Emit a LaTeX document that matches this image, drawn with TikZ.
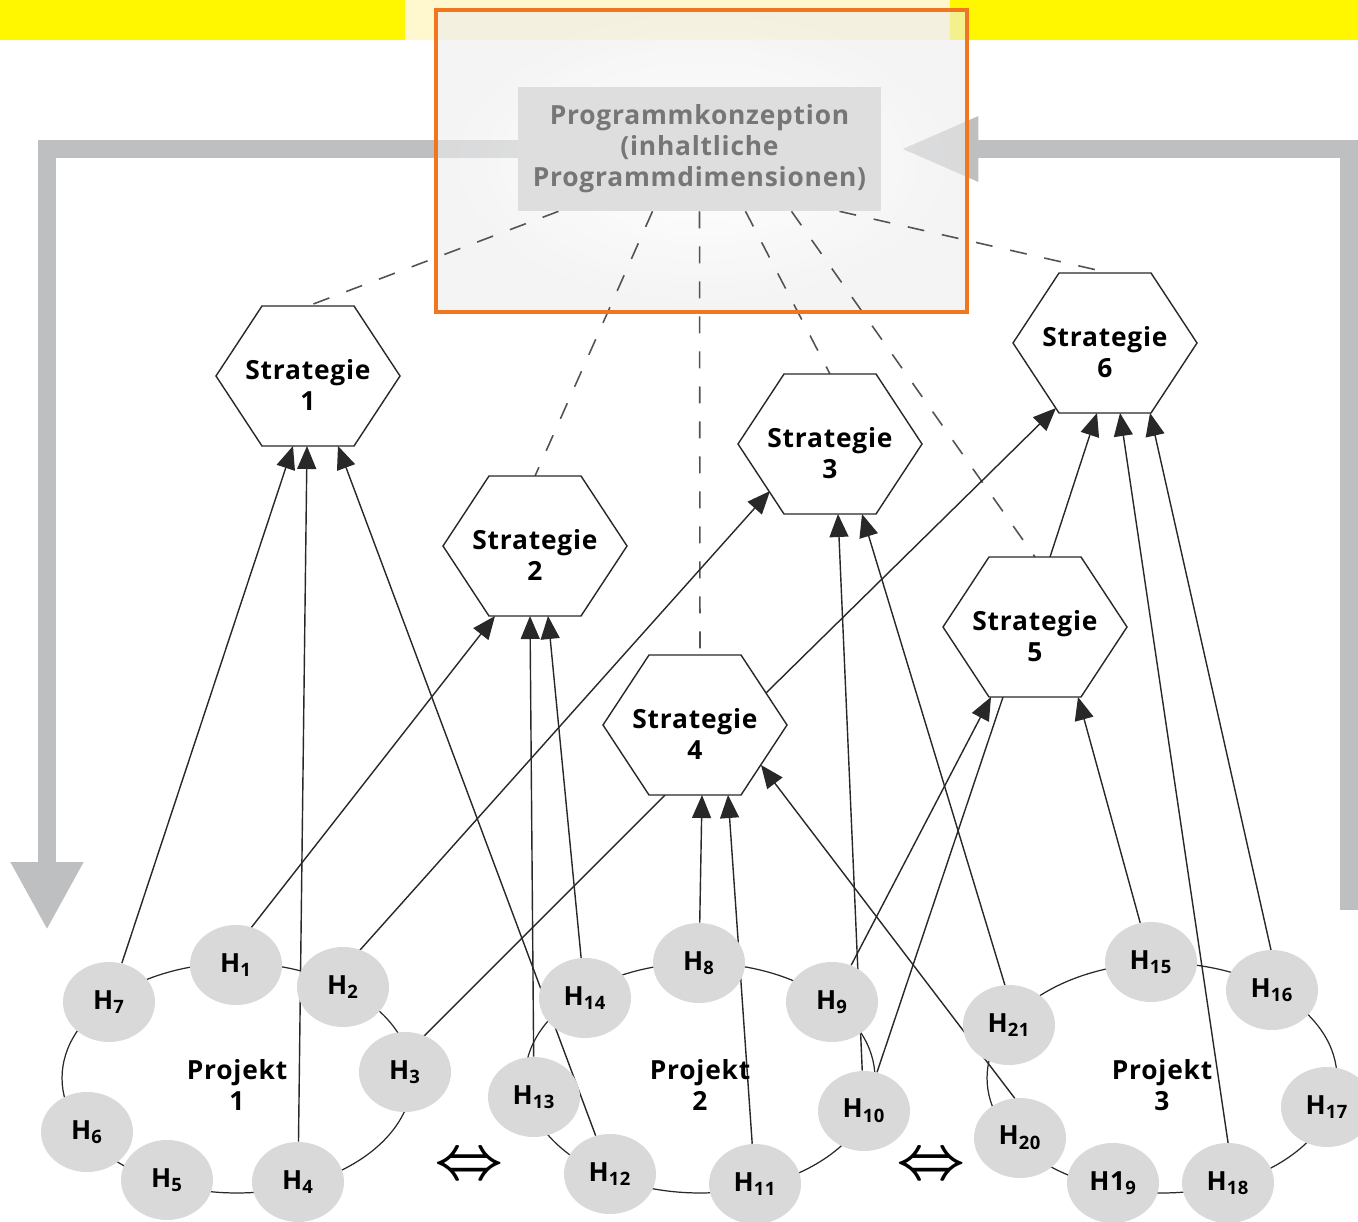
\documentclass[tikz,border=0pt]{standalone}
\usepackage{fontspec}
\setmainfont{Open Sans}[LetterSpace=3]
\usepackage{tikz}
\usetikzlibrary{arrows.meta,shapes.geometric,calc}

\definecolor{bandyellow}{RGB}{255,247,0}
\definecolor{bandpale}{RGB}{255,247,205}
\definecolor{panelorange}{RGB}{240,118,32}
\definecolor{framegray}{RGB}{190,191,193}
\definecolor{konzgray}{RGB}{222,222,222}
\definecolor{konztext}{RGB}{118,118,118}
\definecolor{hgray}{RGB}{217,217,217}
\definecolor{wire}{RGB}{40,40,40}

\pgfdeclarelayer{back}
\pgfdeclarelayer{wires}
\pgfsetlayers{back,wires,main}

\tikzset{
    hnode/.style={ellipse, fill=hgray, minimum width=1.84cm, minimum height=1.6cm, inner sep=0pt, font=\fontsize{15}{16}\selectfont\bfseries},
    stratnode/.style={align=center, inner sep=0pt, font=\fontsize{15}{17.6}\selectfont\bfseries},
    hexline/.style={draw=wire, fill=white, line width=0.8pt},
    projlabel/.style={align=center, inner sep=0pt, font=\fontsize{15}{17.6}\selectfont\bfseries},
    arr/.style={draw=wire, line width=0.8pt, -{Triangle[length=0.46cm,width=0.38cm]}},
    plainlink/.style={draw=wire, line width=0.8pt},
    konzlink/.style={draw=wire!80, line width=0.9pt, dash pattern=on 0.34cm off 0.36cm},
    ring/.style={draw=wire, line width=0.7pt},
    framearrow/.style={draw=framegray, line width=0.36cm},
    swaparrow/.style={inner sep=0pt, font=\Huge\boldmath},
}

\newcommand\strategie[3]{%
    \draw [hexline] (#2) ++(-92,0) -- ++(46,-70) -- ++(92,0) -- ++(46,70) -- ++(-46,70) -- ++(-92,0) -- cycle;
    \coordinate (#1) at (#2);
    \node [stratnode] (#1text) at ($(#2)+(0,9)$) {Strategie\\#3};}

\begin{document}
\begin{tikzpicture}[x=0.02cm, y=-0.02cm]
    \useasboundingbox (0,0) rectangle (1358,1222);

    \node [fill=konzgray, text=konztext, minimum width=7.26cm, minimum height=2.48cm, align=center, inner sep=0pt, font=\fontsize{15}{17.6}\selectfont\bfseries] (konz) at (699.5,149) {Programmkonzeption\\(inhaltliche\\Programmdimensionen)};

    \coordinate (lefttip) at (47,930);
    \coordinate (rightfoot) at (1349,910);

    \begin{pgfonlayer}{back}
        \fill [bandyellow] (0,0) rectangle (1358,40);
        \fill [bandpale] (405,0) rectangle (950,40);
        \draw [framearrow, -{Triangle[length=1.36cm,width=1.36cm]}] (konz.west) -| (lefttip);
        \draw [framearrow, -{Triangle[length=1.56cm,width=1.2cm]}] (rightfoot) |- ($(konz.east)+(19,0)$);
        \shade [inner color=white, outer color=gray!15, opacity=0.6] (436,10) rectangle (967,312);
    \end{pgfonlayer}

    \strategie{s1}{308,376}{1}
    \strategie{s2}{535,546}{2}
    \strategie{s3}{830,444}{3}
    \strategie{s4}{695,725}{4}
    \strategie{s5}{1035,627}{5}
    \strategie{s6}{1105,343}{6}

    \node [hnode] (h1) at (236,965) {H\textsubscript{1}};
    \node [hnode] (h2) at (343,987) {H\textsubscript{2}};
    \node [hnode] (h3) at (405,1072) {H\textsubscript{3}};
    \node [hnode] (h4) at (298,1182) {H\textsubscript{4}};
    \node [hnode] (h5) at (167,1180) {H\textsubscript{5}};
    \node [hnode] (h6) at (87,1132) {H\textsubscript{6}};
    \node [hnode] (h7) at (109,1002) {H\textsubscript{7}};
    \node [hnode] (h8) at (699,963) {H\textsubscript{8}};
    \node [hnode] (h9) at (832,1002) {H\textsubscript{9}};
    \node [hnode] (h10) at (864,1111) {H\textsubscript{10}};
    \node [hnode] (h11) at (755,1184) {H\textsubscript{11}};
    \node [hnode] (h12) at (610,1174) {H\textsubscript{12}};
    \node [hnode] (h13) at (534,1097) {H\textsubscript{13}};
    \node [hnode] (h14) at (585,998) {H\textsubscript{14}};
    \node [hnode] (h15) at (1151,962) {H\textsubscript{15}};
    \node [hnode] (h16) at (1272,990) {H\textsubscript{16}};
    \node [hnode] (h17) at (1327,1107) {H\textsubscript{17}};
    \node [hnode] (h18) at (1228,1183) {H\textsubscript{18}};
    \node [hnode] (h19) at (1113,1183) {H1\textsubscript{9}};
    \node [hnode] (h20) at (1020,1138) {H\textsubscript{20}};
    \node [hnode] (h21) at (1009,1025) {H\textsubscript{21}};

    \node [projlabel] (p1) at (237,1085) {Projekt\\1};
    \node [projlabel] (p2) at (700,1085) {Projekt\\2};
    \node [projlabel] (p3) at (1162,1085) {Projekt\\3};

    \node [swaparrow] (swap1) at (469,1167) {\scalebox{1.38}{$\Leftrightarrow$}};
    \node [swaparrow] (swap2) at (931,1167) {\scalebox{1.38}{$\Leftrightarrow$}};

    \begin{pgfonlayer}{wires}
        \draw [ring] (237,1078) ellipse [x radius=3.5cm, y radius=2.3cm];
        \draw [ring] (700,1078) ellipse [x radius=3.5cm, y radius=2.3cm];
        \draw [ring] (1162,1078) ellipse [x radius=3.5cm, y radius=2.3cm];

        \draw [konzlink] ($(konz.south)+(-141,0)$) -- ($(s1)+(0,-70)$);
        \draw [konzlink] ($(konz.south)+(-47,0)$) -- ($(s2)+(0,-70)$);
        \draw [konzlink] (konz.south) -- ($(s4)+(5,-70)$);
        \draw [konzlink] ($(konz.south)+(46,0)$) -- ($(s3)+(0,-70)$);
        \draw [konzlink] ($(konz.south)+(92,0)$) -- ($(s5)+(0,-70)$);
        \draw [konzlink] ($(konz.south)+(140,0)$) -- ($(s6)+(5,-70)$);

        \draw [arr] (h7) -- ($(s1)+(-15,70)$);
        \draw [arr] (h4) -- ($(s1)+(-1,70)$);
        \draw [arr] (h12) -- ($(s1)+(30,70)$);
        \draw [arr] ($(h1)+(-14,0)$) -- ($(s2)+(-40,70)$);
        \draw [arr] (h13) -- ($(s2)+(-5,70)$);
        \draw [arr] (h14) -- ($(s2)+(13,70)$);
        \draw [arr] ($(h2)+(-16,0)$) -- ($(s3)+(-60,47)$);
        \draw [arr] (h10) -- ($(s3)+(8,70)$);
        \draw [arr] ($(h21)+(8,0)$) -- ($(s3)+(32,70)$);
        \draw [arr] (h8) -- ($(s4)+(7,70)$);
        \draw [arr] (h11) -- ($(s4)+(33,70)$);
        \draw [arr] ($(h20)+(25,0)$) -- ($(s4)+(66,40)$);
        \draw [plainlink] ($(h3)+(-17,0)$) -- ($(s4)+(-30,70)$);
        \draw [arr] (h9) -- ($(s5)+(-44,70)$);
        \draw [plainlink] (h10) -- ($(s5)+(-32,70)$);
        \draw [arr] (h15) -- ($(s5)+(43,70)$);
        \draw [arr] ($(s4)+(71,-32)$) -- ($(s6)+(-49,65)$);
        \draw [arr] ($(s5)+(15,-70)$) -- ($(s6)+(-8,70)$);
        \draw [arr] ($(h18)+(6,0)$) -- ($(s6)+(15,70)$);
        \draw [arr] ($(h16)+(8,0)$) -- ($(s6)+(45,70)$);
    \end{pgfonlayer}

    \draw [panelorange, line width=0.08cm] (436,10) rectangle (967,312);
\end{tikzpicture}
\end{document}
